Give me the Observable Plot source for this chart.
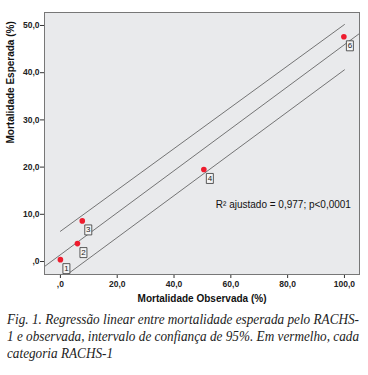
<!DOCTYPE html>
<html><head><meta charset="utf-8">
<script src="https://cdn.jsdelivr.net/npm/d3@7"></script>
<script src="https://cdn.jsdelivr.net/npm/@observablehq/plot@0.6"></script>
<style>
body{margin:0;background:#fff;width:368px;height:375px;overflow:hidden}
#cap{font-family:"Liberation Serif","DejaVu Serif",serif;font-style:italic;font-size:15px;line-height:17px;color:#222;margin:5px 0 0 7px;white-space:nowrap}
#cap div{height:17px}
#cap span{display:inline-block;transform-origin:0 50%}
svg{display:block}
</style></head><body>
<div id="chart"></div>
<div id="cap"><div><span>Fig. 1. Regressão linear entre mortalidade esperada pelo RACHS-</span></div><div><span>1 e observada, intervalo de confiança de 95%. Em vermelho, cada</span></div><div><span>categoria RACHS-1</span></div></div>
<script>
const categories = ["1","2","3","4","6"];
const observed = [0, 6, 7.7, 50.5, 99.8];
const expected = [0.4, 3.8, 8.6, 19.5, 47.6];
const fitX = [-5.6, 105.3];
const fitY = [-1.06, 48.3];
const bandX = [0, 100];
const upperY = [6.4, 50.2];
const lowerY = [-3.8, 40.6];
const xTicks = [0, 20, 40, 60, 80, 100];
const yTicks = [0, 10, 20, 30, 40, 50];
const annotation = "R² ajustado = 0,977; p<0,0001";

const pts = categories.map((c,i)=>({c, x: observed[i], y: expected[i]}));
const fit = fitX.map((x,i)=>({x, y: fitY[i]}));
const up = bandX.map((x,i)=>({x, y: upperY[i]}));
const lo = bandX.map((x,i)=>({x, y: lowerY[i]}));
const fmt = d => d === 0 ? ",0" : d.toFixed(1).replace(".", ",");
const boxSym = {draw(ctx){ ctx.rect(-3.5,-5,7,10); }};

const chart = Plot.plot({
  width: 368, height: 306,
  marginLeft: 44, marginTop: 12, marginRight: 9, marginBottom: 32,
  style: {fontFamily: "'Liberation Sans', Arial, sans-serif", background: "#fff"},
  x: {domain: [-5.6, 105.3]},
  y: {domain: [-2.75, 52.75]},
  marks: [
    Plot.frame({fill: "#e9eaec", stroke: "none"}),
    Plot.line(fit, {x: "x", y: "y", stroke: "#555", strokeWidth: 0.8, clip: true}),
    Plot.line(up, {x: "x", y: "y", stroke: "#555", strokeWidth: 0.8, clip: true}),
    Plot.line(lo, {x: "x", y: "y", stroke: "#555", strokeWidth: 0.8, clip: true}),
    Plot.dot(pts, {x: "x", y: "y", r: 2.8, fill: "#ee1c2e", stroke: "none"}),
    Plot.dot(pts, {x: "x", y: "y", symbol: boxSym, dx: 6, dy: 9, fill: "#f4f4f4", stroke: "#333", strokeWidth: 0.8}),
    Plot.text(pts, {x: "x", y: "y", text: "c", dx: 6, dy: 9, fontSize: 8, fill: "#222"}),
    Plot.text([annotation], {x: 78.5, y: 12.1, fontSize: 10, fill: "#111"}),
    Plot.axisX({ticks: xTicks, tickFormat: fmt, tickSize: 4, fontSize: 8.5, fontWeight: "bold", label: null, stroke: "#333", fill: "#222", tickPadding: 2}),
    Plot.axisY({ticks: yTicks, tickFormat: fmt, tickSize: 4, fontSize: 8.5, fontWeight: "bold", label: null, stroke: "#333", fill: "#222", tickPadding: 1}),
    Plot.frame({stroke: "#777", strokeWidth: 1}),
    Plot.text(["Mortalidade Observada (%)"], {frameAnchor: "bottom", dy: 27, fontSize: 10, fontWeight: "bold", fill: "#111"}),
    Plot.text(["Mortalidade Esperada (%)"], {frameAnchor: "left", dx: -34, rotate: -90, fontSize: 10, fontWeight: "bold", fill: "#111"})
  ]
});
document.getElementById("chart").append(chart);

const spans = document.querySelectorAll("#cap span");
const target = 352;
const s1 = target / spans[0].getBoundingClientRect().width;
const s2 = target / spans[1].getBoundingClientRect().width;
spans[0].style.transform = `scaleX(${s1})`;
spans[1].style.transform = `scaleX(${s2})`;
spans[2].style.transform = `scaleX(${s1})`;
</script>
</body></html>
